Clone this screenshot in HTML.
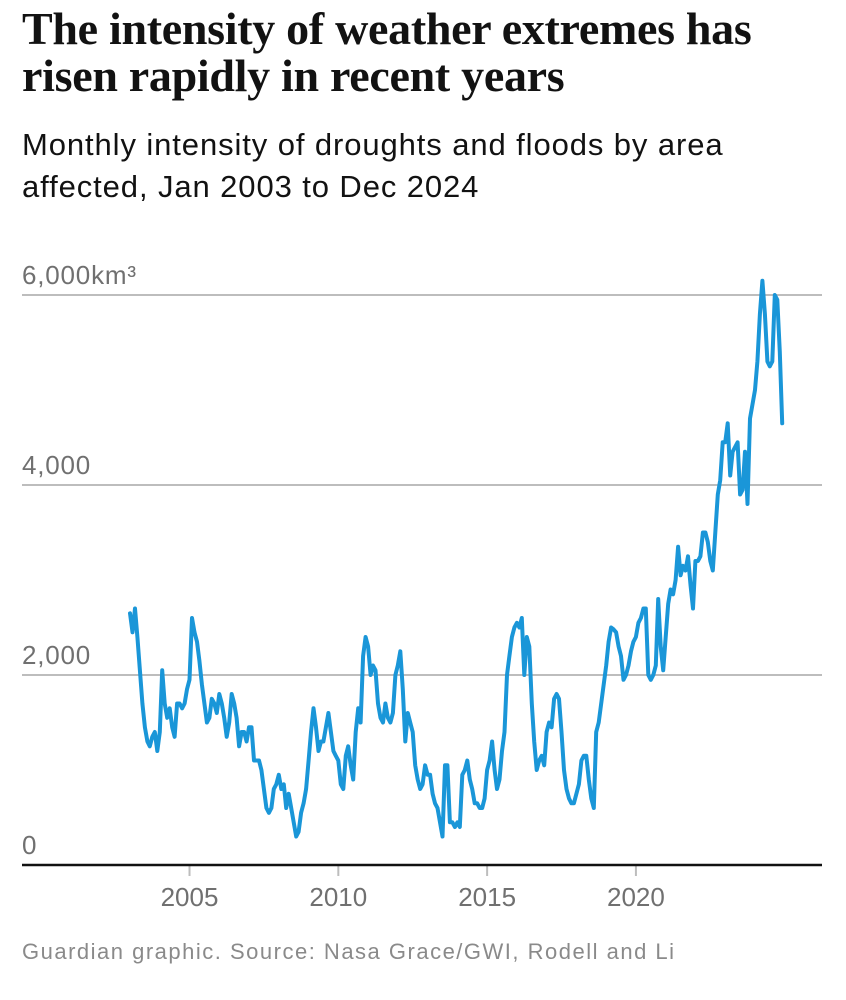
<!DOCTYPE html>
<html><head><meta charset="utf-8">
<style>
body{margin:0;background:#fff;width:846px;height:1000px;overflow:hidden;font-family:"Liberation Sans",sans-serif;}
#title{position:absolute;left:22px;top:5px;font-family:"Liberation Serif",serif;font-weight:bold;font-size:46px;line-height:47px;color:#121212;letter-spacing:-0.3px;white-space:nowrap;}
#sub{position:absolute;left:22px;top:124px;font-size:31px;line-height:42px;color:#121212;letter-spacing:0.9px;white-space:nowrap;}
#foot{position:absolute;left:22px;top:939px;font-size:22px;color:#8a8a8a;letter-spacing:1.5px;white-space:nowrap;}
svg{position:absolute;left:0;top:0;}
</style></head><body>
<div id="title">The intensity of weather extremes has<br>risen rapidly in recent years</div>
<div id="sub">Monthly intensity of droughts and floods by area<br>affected, Jan 2003 to Dec 2024</div>
<svg id="chart" width="846" height="1000"></svg>
<div id="foot">Guardian graphic. Source: Nasa Grace/GWI, Rodell and Li</div>
<script>
const yTicks=[0,2000,4000,6000];
const yTickLabels=["0","2,000","4,000","6,000km³"];
const xTicks=[2005,2010,2015,2020];
const xTickLabels=["2005","2010","2015","2020"];
const startYear=2003;
const intensity=[
2650,2450,2700,2400,2050,1700,1450,1300,1250,1350,1400,1200,
1400,2050,1700,1550,1650,1450,1350,1700,1700,1650,1700,1850,
1950,2600,2450,2350,2150,1900,1700,1500,1550,1750,1700,1600,
1800,1700,1550,1350,1500,1800,1700,1550,1250,1400,1400,1300,
1450,1450,1100,1100,1100,1000,800,600,550,600,800,850,
950,800,850,600,750,600,450,300,350,550,650,800,
1100,1400,1650,1450,1200,1300,1300,1450,1600,1400,1200,1150,
1100,850,800,1150,1250,1050,900,1400,1650,1500,2200,2400,
2300,2000,2100,2050,1700,1550,1500,1700,1550,1500,1600,2000,
2100,2250,1850,1300,1600,1500,1400,1050,900,800,850,1050,
950,950,750,650,600,450,300,1050,1050,450,450,400,
450,400,950,1000,1100,900,800,650,650,600,600,700,
1000,1100,1300,1000,800,900,1200,1400,2000,2200,2400,2500,
2550,2500,2600,2000,2400,2300,1700,1300,1000,1100,1150,1050,
1400,1500,1450,1750,1800,1750,1400,1000,800,700,650,650,
750,850,1100,1150,1150,900,700,600,1400,1500,1700,1900,
2100,2350,2500,2480,2450,2300,2200,1950,2000,2100,2250,2350,
2400,2550,2600,2700,2700,2000,1950,2000,2100,2800,2300,2050,
2400,2750,2900,2850,3000,3350,3050,3150,3100,3250,2950,2700,
3200,3200,3250,3500,3500,3400,3200,3100,3500,3900,4050,4450,
4450,4650,4100,4350,4400,4450,3900,3950,4350,3800,4700,4850,5000,
5300,5800,6150,5800,5300,5250,5300,6000,5950,5400,4650
];
const NS="http://www.w3.org/2000/svg";
const svg=document.getElementById('chart');
const x0=130,pxPerMonth=2.48;
function xScale(t){return x0+(t-startYear)*12*pxPerMonth;}
function yScale(v){return 865-v*0.095;}
yTicks.forEach((v,i)=>{
  if(v>0){const l=document.createElementNS(NS,'line');
  l.setAttribute('x1',22);l.setAttribute('x2',822);l.setAttribute('y1',yScale(v));l.setAttribute('y2',yScale(v));
  l.setAttribute('stroke','#bdbdbd');l.setAttribute('stroke-width','2');
  
  
  svg.appendChild(l);}
  const t=document.createElementNS(NS,'text');
  t.setAttribute('x',22);t.setAttribute('y',yScale(v)-11);
  t.setAttribute('font-size','26');t.setAttribute('fill','#707070');t.setAttribute('letter-spacing','0.8');
  t.setAttribute('font-family','Liberation Sans, sans-serif');
  t.textContent=yTickLabels[i];
  
  
  svg.appendChild(t);
});
xTicks.forEach((yr,i)=>{
  const x=xScale(yr);
  const l=document.createElementNS(NS,'line');
  l.setAttribute('x1',x);l.setAttribute('x2',x);l.setAttribute('y1',865);l.setAttribute('y2',876);
  l.setAttribute('stroke','#bdbdbd');l.setAttribute('stroke-width','2');
  
  
  svg.appendChild(l);
  const t=document.createElementNS(NS,'text');
  t.setAttribute('x',x);t.setAttribute('y',906);t.setAttribute('text-anchor','middle');
  t.setAttribute('font-size','26');t.setAttribute('fill','#707070');
  t.setAttribute('font-family','Liberation Sans, sans-serif');
  t.textContent=xTickLabels[i];
  
  
  svg.appendChild(t);
});
const axis=document.createElementNS(NS,'line');
axis.setAttribute('x1',22);axis.setAttribute('x2',822);axis.setAttribute('y1',865);axis.setAttribute('y2',865);
axis.setAttribute('stroke','#121212');axis.setAttribute('stroke-width','2.5');


svg.appendChild(axis);
const pts=intensity.map((v,i)=>xScale(startYear+i/12).toFixed(1)+','+yScale(v).toFixed(1)).join(' ');
const pl=document.createElementNS(NS,'polyline');
pl.setAttribute('points',pts);pl.setAttribute('fill','none');
pl.setAttribute('stroke','#1a96d8');pl.setAttribute('stroke-width','4');
pl.setAttribute('stroke-linejoin','round');pl.setAttribute('stroke-linecap','round');


svg.appendChild(pl);
</script>
</body></html>
